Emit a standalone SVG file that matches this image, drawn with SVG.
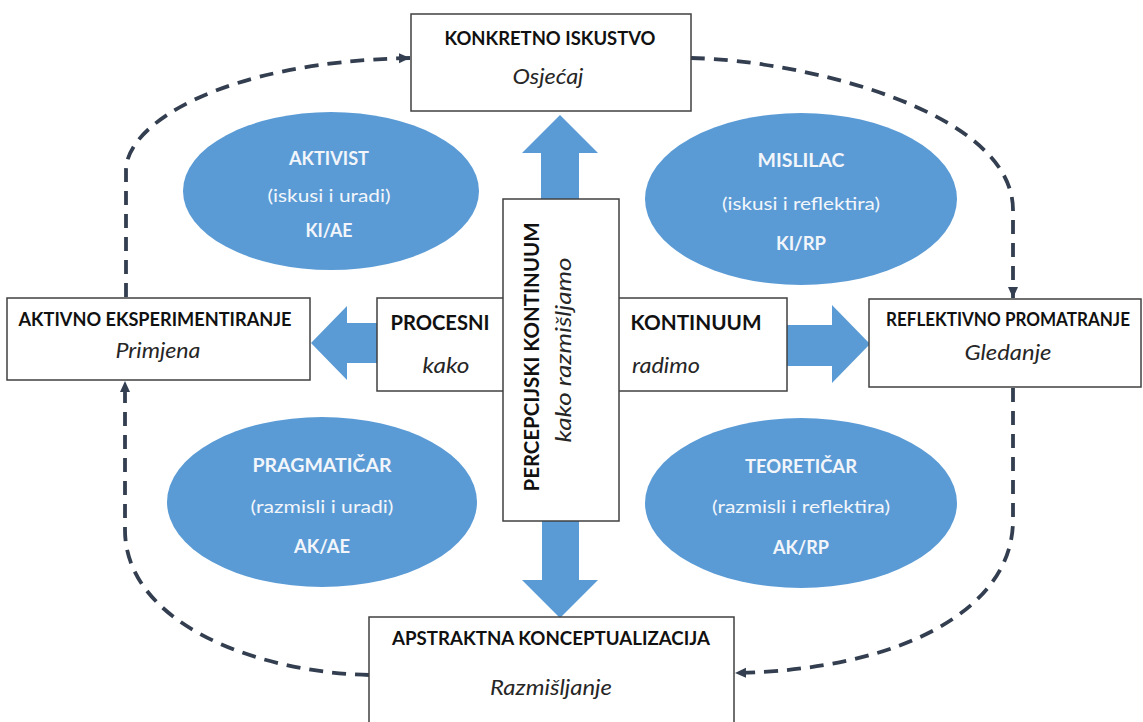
<svg xmlns="http://www.w3.org/2000/svg" width="1143" height="722" viewBox="0 0 1143 722">
  <style>
    .box { fill: #ffffff; stroke: #404040; stroke-width: 1.5; }
    .ell { fill: #5B9BD5; }
    .big { fill: #5B9BD5; }
    .t { font-family: Lato, "Open Sans", "Liberation Sans", sans-serif; text-anchor: middle; }
    .title { font-weight: bold; font-size: 18px; fill: #111111; }
    .sub { font-style: italic; font-size: 21px; fill: #262626; }
    .mid { font-weight: bold; font-size: 21px; fill: #111111; }
    .et { font-size: 18px; fill: #F2F6FB; }
    .eb { font-weight: bold; }
    .dash { fill: none; stroke: #333F50; stroke-width: 3.8; stroke-dasharray: 14 9; }
  </style>
  <defs>
    <marker id="ah" markerUnits="userSpaceOnUse" markerWidth="12" markerHeight="12" refX="11" refY="6" orient="auto">
      <path d="M0,1 L11,6 L0,11 z" fill="#333F50"/>
    </marker>
  </defs>

  <rect width="1143" height="722" fill="#ffffff"/>

  <!-- Ellipses -->
  <g id="aktivist">
    <ellipse class="ell" cx="331" cy="191" rx="148" ry="79"/>
    <text class="t et eb" x="329" y="165" textLength="80" lengthAdjust="spacingAndGlyphs">AKTIVIST</text>
    <text class="t et" x="329" y="202" textLength="123" lengthAdjust="spacingAndGlyphs">(iskusi i uradi)</text>
    <text class="t et eb" x="329" y="237" textLength="47" lengthAdjust="spacingAndGlyphs">KI/AE</text>
  </g>
  <g id="mislilac">
    <ellipse class="ell" cx="801" cy="199" rx="156" ry="86"/>
    <text class="t et eb" x="801" y="167" textLength="87" lengthAdjust="spacingAndGlyphs">MISLILAC</text>
    <text class="t et" x="801" y="210" textLength="158" lengthAdjust="spacingAndGlyphs">(iskusi i reflektira)</text>
    <text class="t et eb" x="801" y="250" textLength="50" lengthAdjust="spacingAndGlyphs">KI/RP</text>
  </g>
  <g id="pragmaticar">
    <ellipse class="ell" cx="322" cy="502" rx="155" ry="85"/>
    <text class="t et eb" x="322" y="472" textLength="139" lengthAdjust="spacingAndGlyphs">PRAGMATIČAR</text>
    <text class="t et" x="322" y="513" textLength="143" lengthAdjust="spacingAndGlyphs">(razmisli i uradi)</text>
    <text class="t et eb" x="322" y="553" textLength="56" lengthAdjust="spacingAndGlyphs">AK/AE</text>
  </g>
  <g id="teoreticar">
    <ellipse class="ell" cx="801" cy="503" rx="156" ry="85"/>
    <text class="t et eb" x="801" y="473" textLength="112" lengthAdjust="spacingAndGlyphs">TEORETIČAR</text>
    <text class="t et" x="801" y="513" textLength="178" lengthAdjust="spacingAndGlyphs">(razmisli i reflektira)</text>
    <text class="t et eb" x="801" y="554" textLength="56" lengthAdjust="spacingAndGlyphs">AK/RP</text>
  </g>

  <!-- Dashed cycle connectors -->
  <g id="connectors">
    <path class="dash" d="M126,297 L126,170 C126,125 220,62 410,58" marker-end="url(#ah)"/>
    <path class="dash" d="M691,58 C800,60 1013,110 1013,210 L1013,298" marker-end="url(#ah)"/>
    <path class="dash" d="M1013,388 L1013,520 C1013,610 900,670 735,673" marker-end="url(#ah)"/>
    <path class="dash" d="M369,675 C250,672 125,620 125,530 L125,381" marker-end="url(#ah)"/>
  </g>

  <!-- Big blue arrows -->
  <g id="arrows">
    <polygon class="big" points="560,115 598,153 579,153 579,205 541,205 541,153 522,153"/>
    <polygon class="big" points="560,618 598,580 579,580 579,515 542,515 542,580 522,580"/>
    <polygon class="big" points="311,343 347,306 347,323 380,323 380,363 347,363 347,380"/>
    <polygon class="big" points="870,344 832,305 832,325 785,325 785,366 832,366 832,383"/>
  </g>

  <!-- Processing continuum box -->
  <g id="procesni-kontinuum">
    <rect class="box" x="377" y="298" width="410" height="93"/>
    <text class="t mid" x="440" y="330" textLength="99" lengthAdjust="spacingAndGlyphs">PROCESNI</text>
    <text class="t sub" x="446" y="373" textLength="47" lengthAdjust="spacingAndGlyphs">kako</text>
    <text class="t mid" x="696" y="330" textLength="131" lengthAdjust="spacingAndGlyphs">KONTINUUM</text>
    <text class="t sub" x="666" y="373" textLength="68" lengthAdjust="spacingAndGlyphs">radimo</text>
  </g>

  <!-- Perception continuum box -->
  <g id="percepcijski-kontinuum">
    <rect class="box" x="503" y="199" width="116" height="322"/>
    <text class="t mid" transform="translate(539,357) rotate(-90)" textLength="269" lengthAdjust="spacingAndGlyphs">PERCEPCIJSKI KONTINUUM</text>
    <text class="t sub" transform="translate(571,350) rotate(-90)" textLength="185" lengthAdjust="spacingAndGlyphs">kako razmišljamo</text>
  </g>

  <!-- Stage boxes -->
  <g id="konkretno-iskustvo">
    <rect class="box" x="411" y="14" width="280" height="97"/>
    <text class="t title" x="550" y="45" textLength="211" lengthAdjust="spacingAndGlyphs">KONKRETNO ISKUSTVO</text>
    <text class="t sub" x="548" y="84" textLength="71" lengthAdjust="spacingAndGlyphs">Osjećaj</text>
  </g>
  <g id="aktivno-eksperimentiranje">
    <rect class="box" x="7" y="298" width="303" height="82"/>
    <text class="t title" x="155" y="326" textLength="273" lengthAdjust="spacingAndGlyphs">AKTIVNO EKSPERIMENTIRANJE</text>
    <text class="t sub" x="158" y="358" textLength="85" lengthAdjust="spacingAndGlyphs">Primjena</text>
  </g>
  <g id="reflektivno-promatranje">
    <rect class="box" x="869" y="299" width="272" height="88"/>
    <text class="t title" x="1008" y="326" textLength="244" lengthAdjust="spacingAndGlyphs">REFLEKTIVNO PROMATRANJE</text>
    <text class="t sub" x="1008" y="360" textLength="87" lengthAdjust="spacingAndGlyphs">Gledanje</text>
  </g>
  <g id="apstraktna-konceptualizacija">
    <rect class="box" x="369" y="617" width="365" height="115"/>
    <text class="t title" x="551" y="645" textLength="318" lengthAdjust="spacingAndGlyphs">APSTRAKTNA KONCEPTUALIZACIJA</text>
    <text class="t sub" x="551" y="695" textLength="122" lengthAdjust="spacingAndGlyphs">Razmišljanje</text>
  </g>
</svg>
